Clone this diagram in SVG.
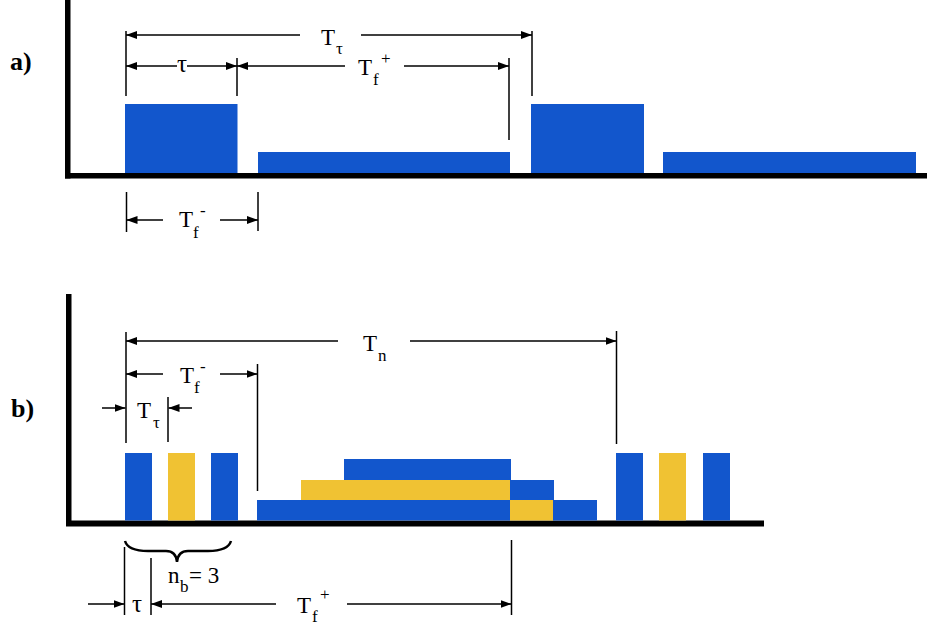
<svg xmlns="http://www.w3.org/2000/svg" width="927" height="625" viewBox="0 0 927 625">
<style>
.b{fill:#1256CC}
.y{fill:#F0C233}
.ax{fill:#000}
.ln{stroke:#000;stroke-width:1.5;fill:none}
.ar{stroke:#000;stroke-width:1.5;fill:none;marker-end:url(#ah)}
</style>
<defs>
<marker id="ah" markerUnits="userSpaceOnUse" markerWidth="11" markerHeight="8" viewBox="0 0 11 8" refX="11" refY="4" orient="auto">
<path d="M0,0 L11,4 L0,8 z" fill="#000"/>
</marker>
</defs>

<g id="panel-a">
<g id="a-axes">
<rect class="ax" x="65" y="0" width="5.5" height="178.5"/>
<rect class="ax" x="65" y="173" width="862" height="5.5"/>
</g>
<g id="a-blocks">
<rect class="b" x="125" y="104" width="112.5" height="69"/>
<rect class="b" x="258" y="152" width="252" height="21"/>
<rect class="b" x="531" y="104" width="113" height="69"/>
<rect class="b" x="663" y="152" width="253" height="21"/>
</g>
<g id="a-connectors">
<line class="ln" x1="126" y1="31" x2="126" y2="96"/>
<line class="ln" x1="237" y1="58" x2="237" y2="96"/>
<line class="ln" x1="509" y1="58" x2="509" y2="140"/>
<line class="ln" x1="532" y1="31" x2="532" y2="96"/>
<line class="ln" x1="126.5" y1="192" x2="126.5" y2="232"/>
<line class="ln" x1="258" y1="192" x2="258" y2="231"/>
<line class="ar" x1="300" y1="35" x2="126" y2="35"/>
<line class="ar" x1="361" y1="35" x2="532" y2="35"/>
<line class="ar" x1="177" y1="66" x2="126" y2="66"/>
<line class="ar" x1="187" y1="66" x2="237" y2="66"/>
<line class="ar" x1="345" y1="66" x2="237" y2="66"/>
<line class="ar" x1="404" y1="66" x2="509" y2="66"/>
<line class="ar" x1="163" y1="220" x2="126.5" y2="220"/>
<line class="ar" x1="220" y1="220" x2="258" y2="220"/>
</g>
<g id="a-labels" font-family="'Liberation Serif', 'Times New Roman', serif" font-size="23" fill="#000">
<text x="10" y="70" font-size="26" font-weight="bold">a)</text>
<text x="321" y="45">T<tspan font-size="17" x="336" y="54">τ</tspan></text>
<text x="182" y="72" font-size="25" text-anchor="middle">τ</text>
<text x="358" y="75">T<tspan font-size="17" x="373" y="85">f</tspan><tspan font-size="17" x="381" y="64">+</tspan></text>
<text x="179" y="227">T<tspan font-size="17" x="193" y="238">f</tspan><tspan font-size="17" x="200" y="216">-</tspan></text>
</g>
</g>

<g id="panel-b">
<g id="b-axes">
<rect class="ax" x="66" y="294" width="5.5" height="232"/>
<rect class="ax" x="66" y="520.5" width="698" height="6"/>
</g>
<g id="b-blocks">
<rect class="b" x="125" y="453" width="27" height="67.5"/>
<rect class="y" x="168" y="453" width="27" height="67.5"/>
<rect class="b" x="211" y="453" width="27" height="67.5"/>
<rect class="b" x="257" y="500" width="253" height="20.5"/>
<rect class="y" x="301" y="480" width="209" height="20"/>
<rect class="b" x="344" y="459" width="167" height="21"/>
<rect class="b" x="510" y="480" width="44" height="20"/>
<rect class="y" x="510" y="500" width="43" height="20.5"/>
<rect class="b" x="553" y="500" width="44" height="20.5"/>
<rect class="b" x="616" y="453" width="27" height="67.5"/>
<rect class="y" x="659" y="453" width="27" height="67.5"/>
<rect class="b" x="703" y="453" width="27" height="67.5"/>
</g>
<g id="b-connectors">
<line class="ln" x1="126" y1="332" x2="126" y2="443"/>
<line class="ln" x1="168" y1="397" x2="168" y2="442"/>
<line class="ln" x1="257.5" y1="364" x2="257.5" y2="491"/>
<line class="ln" x1="616.5" y1="331" x2="616.5" y2="444"/>
<line class="ar" x1="338" y1="341" x2="126" y2="341"/>
<line class="ar" x1="410" y1="341" x2="616.5" y2="341"/>
<line class="ar" x1="163" y1="374" x2="126" y2="374"/>
<line class="ar" x1="220" y1="374" x2="257.5" y2="374"/>
<line class="ar" x1="102" y1="408" x2="125.5" y2="408"/>
<line class="ar" x1="192" y1="408" x2="168.5" y2="408"/>
<path class="ln" style="stroke-width:2.5" d="M125,541 Q128,551 148,551 L166,551 Q176,551 177,562 Q178,551 188,551 L208,551 Q228,551 231,541"/>
<line class="ln" x1="124.5" y1="547" x2="124.5" y2="615"/>
<line class="ln" x1="151" y1="558" x2="151" y2="615"/>
<line class="ln" x1="511.5" y1="540" x2="511.5" y2="615"/>
<line class="ar" x1="88" y1="604" x2="124.5" y2="604"/>
<line class="ar" x1="276" y1="604" x2="151" y2="604"/>
<line class="ar" x1="347" y1="604" x2="511.5" y2="604"/>
</g>
<g id="b-labels" font-family="'Liberation Serif', 'Times New Roman', serif" font-size="23" fill="#000">
<text x="11" y="417" font-size="26" font-weight="bold">b)</text>
<text x="363" y="351">T<tspan font-size="17" x="378" y="361">n</tspan></text>
<text x="180" y="383">T<tspan font-size="17" x="194" y="393">f</tspan><tspan font-size="17" x="200" y="372">-</tspan></text>
<text x="137" y="418">T<tspan font-size="17" x="153" y="428">τ</tspan></text>
<text x="137" y="612" font-size="25" text-anchor="middle">τ</text>
<text x="168" y="583">n<tspan font-size="17" x="180" y="592">b</tspan><tspan x="189" y="583">= 3</tspan></text>
<text x="297" y="613">T<tspan font-size="17" x="312" y="622">f</tspan><tspan font-size="17" x="320" y="600">+</tspan></text>
</g>
</g>
</svg>
